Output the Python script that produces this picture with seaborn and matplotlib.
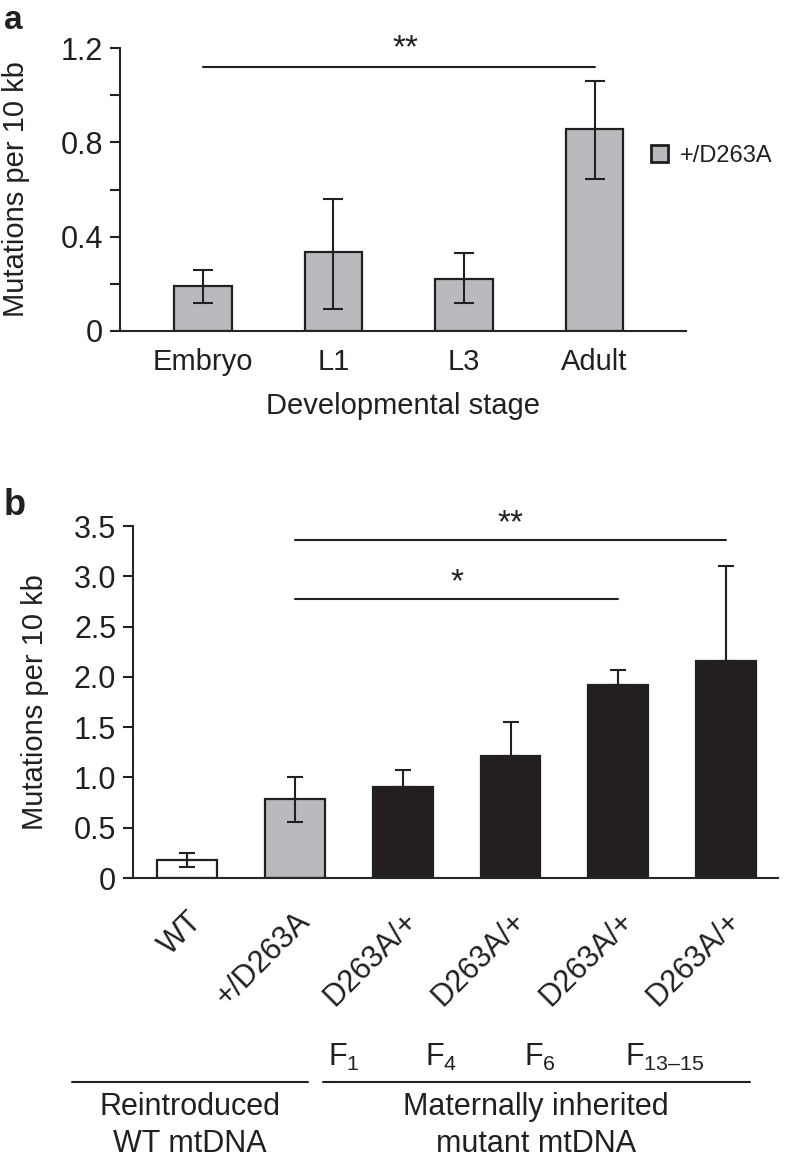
import numpy as np
import pandas as pd
import matplotlib
matplotlib.use("Agg")
import matplotlib.pyplot as plt
from matplotlib.lines import Line2D
from matplotlib.patches import Patch
import seaborn as sns

sns.set_theme(style="ticks")
plt.rcParams["font.family"] = ["Liberation Sans", "DejaVu Sans"]
plt.rcParams["mathtext.fontset"] = "custom"
plt.rcParams["mathtext.rm"] = "Liberation Sans"
plt.rcParams["axes.linewidth"] = 1.5
plt.rcParams["text.color"] = "#231f20"

INK = "#231f20"
GREY = "#b9babd"

# ─── данные: панель a ───
stages = ["Embryo", "L1", "L3", "Adult"]
stage_mean = [0.19, 0.335, 0.22, 0.857]
stage_lo = [0.12, 0.095, 0.12, 0.645]
stage_hi = [0.26, 0.56, 0.33, 1.06]

# ─── данные: панель b ───
groups = ["WT", "+/D263A", "F1", "F4", "F6", "F13-15"]
group_labels = ["WT", "+/D263A", "D263A/+", "D263A/+", "D263A/+", "D263A/+"]
group_mean = [0.18, 0.79, 0.905, 1.21, 1.92, 2.16]
group_lo = [0.11, 0.56, 0.905, 1.21, 1.92, 2.16]
group_hi = [0.25, 1.00, 1.07, 1.55, 2.07, 3.10]
group_colors = ["white", GREY, INK, INK, INK, INK]
generations = [r"F$_\mathregular{1}$", r"F$_\mathregular{4}$",
               r"F$_\mathregular{6}$", r"F$_\mathregular{13–15}$"]
generation_px = [328, 425, 524, 625]

fig = plt.figure(figsize=(7.88, 11.59), dpi=100)
W, H = 788, 1159


def px_axes(x0, x1, y_top, y_bot):
    return fig.add_axes([x0 / W, 1 - y_bot / H, (x1 - x0) / W, (y_bot - y_top) / H])


# ─── a ───
ax_a = px_axes(120, 686, 48, 331)
df_a = pd.DataFrame({"stage": stages, "mut": stage_mean})
sns.barplot(data=df_a, x="stage", y="mut", ax=ax_a, color=GREY, saturation=1,
            edgecolor=INK, linewidth=1.6, width=0.44, errorbar=None)
m = np.array(stage_mean)
ax_a.errorbar(range(len(stages)), m, yerr=[m - np.array(stage_lo), np.array(stage_hi) - m],
              fmt="none", ecolor=INK, elinewidth=1.5, capsize=7, capthick=1.5)
ax_a.set_xlim(-0.635, 3.70)
ax_a.set_ylim(0, 1.2)
ax_a.set_yticks(np.arange(0, 1.21, 0.2))
ax_a.set_yticklabels(["0", "", "0.4", "", "0.8", "", "1.2"])
ax_a.tick_params(axis="y", labelsize=22, length=7, width=1.5, colors=INK, pad=5)
ax_a.tick_params(axis="x", labelsize=21, length=0, colors=INK, pad=12)
ax_a.set_xlabel("Developmental stage", fontsize=21, color=INK, labelpad=12)
ax_a.set_ylabel("Mutations per 10 kb", fontsize=21, color=INK, labelpad=22)
sns.despine(ax=ax_a)
ax_a.plot([0, 3], [1.12, 1.12], color=INK, lw=1.5, clip_on=False)
ax_a.text(1.55, 1.13, "**", ha="center", va="bottom", fontsize=24)
ax_a.legend(handles=[Patch(facecolor=GREY, edgecolor=INK, linewidth=2)],
            labels=["+/D263A"], loc="center left", bbox_to_anchor=(0.9, 0.62),
            frameon=False, fontsize=17, handlelength=0.75, handleheight=0.75,
            handletextpad=0.5)

# ─── b ───
ax_b = px_axes(133, 778, 526, 878)
df_b = pd.DataFrame({"grp": groups, "mut": group_mean})
sns.barplot(data=df_b, x="grp", y="mut", hue="grp", palette=group_colors, ax=ax_b,
            saturation=1, edgecolor=INK, linewidth=1.6, width=0.556,
            errorbar=None, legend=False)
m = np.array(group_mean)
ax_b.errorbar(range(len(groups)), m, yerr=[m - np.array(group_lo), np.array(group_hi) - m],
              fmt="none", ecolor=INK, elinewidth=1.5, capsize=6, capthick=1.5)
ax_b.set_xlim(-0.50, 5.48)
ax_b.set_ylim(0, 3.5)
ax_b.set_yticks(np.arange(0, 3.51, 0.5))
ax_b.set_yticklabels(["0", "0.5", "1.0", "1.5", "2.0", "2.5", "3.0", "3.5"])
ax_b.tick_params(axis="y", labelsize=22, length=7, width=1.5, colors=INK, pad=5)
ax_b.tick_params(axis="x", length=0, pad=20)
ax_b.set_xticks(range(len(groups)))
ax_b.set_xticklabels(group_labels, rotation=45, ha="right", va="top",
                     rotation_mode="anchor", fontsize=22, color=INK)
ax_b.set_xlabel("")
ax_b.set_ylabel("Mutations per 10 kb", fontsize=21, color=INK, labelpad=18)
sns.despine(ax=ax_b)
ax_b.plot([1, 5], [3.36, 3.36], color=INK, lw=1.5, clip_on=False)
ax_b.text(3.0, 3.37, "**", ha="center", va="bottom", fontsize=24)
ax_b.plot([1, 4], [2.77, 2.77], color=INK, lw=1.5, clip_on=False)
ax_b.text(2.5, 2.78, "*", ha="center", va="bottom", fontsize=24)

# ─── подписи под панелью b ───
for gx, g in zip(generation_px, generations):
    fig.text(gx / W, 1 - 1066 / H, g, ha="left", va="baseline", fontsize=22)
fig.add_artist(Line2D([72 / W, 308 / W], [1 - 1082 / H] * 2, color=INK, lw=1.5))
fig.add_artist(Line2D([323 / W, 750 / W], [1 - 1082 / H] * 2, color=INK, lw=1.5))
fig.text(190 / W, 1 - 1115 / H, "Reintroduced", ha="center", va="baseline", fontsize=22)
fig.text(190 / W, 1 - 1152 / H, "WT mtDNA", ha="center", va="baseline", fontsize=22)
fig.text(536 / W, 1 - 1115 / H, "Maternally inherited", ha="center", va="baseline",
         fontsize=22)
fig.text(536 / W, 1 - 1152 / H, "mutant mtDNA", ha="center", va="baseline", fontsize=22)

fig.text(4 / W, 1 - 29 / H, "a", fontsize=24, fontweight="bold", va="baseline")
fig.text(4 / W, 1 - 515 / H, "b", fontsize=26, fontweight="bold", va="baseline")

fig.savefig("out.png", dpi=100, facecolor="white")
